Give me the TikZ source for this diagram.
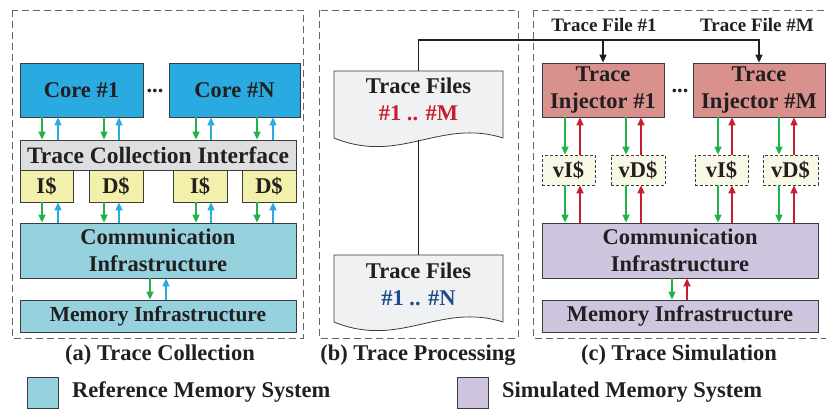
\documentclass[tikz,border=0pt]{standalone}
\usepackage{fontspec}
\setmainfont{Liberation Serif}
\usetikzlibrary{arrows.meta}
\definecolor{txt}{RGB}{35,31,32}
\definecolor{boxline}{RGB}{60,60,60}
\definecolor{corecol}{RGB}{41,171,226}
\definecolor{tcicol}{RGB}{221,222,223}
\definecolor{cachecol}{RGB}{242,240,170}
\definecolor{refcol}{RGB}{150,210,222}
\definecolor{injcol}{RGB}{217,145,142}
\definecolor{vcachecol}{RGB}{248,248,230}
\definecolor{simcol}{RGB}{207,197,222}
\definecolor{filecol}{RGB}{240,241,242}
\definecolor{greencol}{RGB}{34,178,76}
\definecolor{bluecol}{RGB}{41,171,226}
\definecolor{redcol}{RGB}{200,30,45}
\definecolor{navycol}{RGB}{30,75,140}
\tikzset{
  box/.style={draw=boxline, line width=0.8pt, inner sep=0pt, text=txt, align=center,
    font=\fontsize{22.5}{27}\selectfont\bfseries},
  vbox/.style={box, dash pattern=on 3pt off 2pt, fill=vcachecol},
  lbl/.style={inner sep=0pt, text=txt, font=\fontsize{22.5}{27}\selectfont\bfseries},
  panel/.style={draw=black!60, dash pattern=on 7pt off 4pt, line width=0.9pt},
  dnarrow/.style={-{Triangle[length=8pt,width=7pt]}, line width=1.6pt, draw=greencol},
  upblue/.style={-{Triangle[length=8pt,width=7pt]}, line width=1.6pt, draw=bluecol},
  upred/.style={-{Triangle[length=8pt,width=7pt]}, line width=1.6pt, draw=redcol},
  fileline/.style={line width=1.3pt, draw=txt},
  tracefile/.pic={
    \draw[draw=boxline, line width=0.8pt, fill=filecol] (-84.5,33.5) -- (84.5,33.5) -- (84.5,-33.5)
      .. controls +(-63,20) and +(66,-27) .. (-84.5,-33.5) -- cycle;
    \coordinate (-top) at (0,33.5);
    \coordinate (-bot) at (0,-36);
  }
}
\begin{document}
\begin{tikzpicture}[x=1pt, y=1pt]
\useasboundingbox (0,0) rectangle (826,410);
\draw[panel] (12,400) rectangle (303,72);
\draw[panel] (319,400) rectangle (518,72);
\draw[panel] (533,400) rectangle (840,72);

% (a) trace collection
\node[box, fill=corecol, minimum width=123pt, minimum height=54pt] (core1) at (81.5,320) {Core \#1};
\node[box, fill=corecol, minimum width=131pt, minimum height=54pt] (coreN) at (234.5,320) {Core \#N};
\node[lbl] (dotsA) at (155,319) {...};
\node[box, fill=tcicol, minimum width=276pt, minimum height=30pt, font=\fontsize{23.5}{27}\selectfont\bfseries] (tci) at (158,255) {Trace Collection Interface};
\node[box, fill=cachecol, minimum width=53pt, minimum height=32pt] (ia) at (46.5,224) {I\$};
\node[box, fill=cachecol, minimum width=54pt, minimum height=32pt] (da) at (116,224) {D\$};
\node[box, fill=cachecol, minimum width=54pt, minimum height=32pt] (ib) at (200,224) {I\$};
\node[box, fill=cachecol, minimum width=54pt, minimum height=32pt] (db) at (269,224) {D\$};
\node[box, fill=refcol, minimum width=276pt, minimum height=55pt] (comA) at (158,159.5) {Communication\\Infrastructure};
\node[box, fill=refcol, minimum width=276pt, minimum height=32pt, font=\fontsize{21.5}{27}\selectfont\bfseries] (memA) at (158,94) {Memory Infrastructure};
\foreach \c/\k/\g/\b in {core1/ia/42/58, core1/da/104/119, coreN/ib/196/211, coreN/db/257/273} {
  \draw[dnarrow] (\c.south -| \g,0) -- (tci.north -| \g,0);
  \draw[upblue] (tci.north -| \b,0) -- (\c.south -| \b,0);
  \draw[dnarrow] (\k.south -| \g,0) -- (comA.north -| \g,0);
  \draw[upblue] (comA.north -| \b,0) -- (\k.south -| \b,0);
}
\draw[dnarrow] (comA.south -| 150,0) -- (memA.north -| 150,0);
\draw[upblue] (memA.north -| 166,0) -- (comA.south -| 166,0);
\node[lbl] (capA) at (160,55) {(a) Trace Collection};

% (b) trace processing
\pic (docM) at (418.5,305.5) {tracefile};
\pic (docN) at (418.5,121.5) {tracefile};
\node[lbl, align=center] (fileM) at (418.5,311) {Trace Files\\\textcolor{redcol}{\#1 .. \#M}};
\node[lbl, align=center] (fileN) at (418.5,126) {Trace Files\\\textcolor{navycol}{\#1 .. \#N}};
\draw[fileline] (docM-bot) -- (docN-top);
\node[lbl] (capB) at (418,55) {(b) Trace Processing};

% (c) trace simulation
\node[box, fill=injcol, minimum width=122pt, minimum height=54pt] (inj1) at (603,320) {Trace\\Injector \#1};
\node[box, fill=injcol, minimum width=132pt, minimum height=54pt] (injM) at (759,320) {Trace\\Injector \#M};
\node[lbl] (dotsC) at (680,319) {...};
\node[lbl, font=\fontsize{19}{22}\selectfont\bfseries] (tf1) at (604,385) {Trace File \#1};
\node[lbl, font=\fontsize{19}{22}\selectfont\bfseries] (tfM) at (757,385) {Trace File \#M};
\draw[fileline, -{Triangle[length=8pt,width=7pt]}] (docM-top) |- (injM.north |- 0,370) -- (injM.north);
\draw[fileline, -{Triangle[length=8pt,width=7pt]}] (inj1.north |- 0,370) -- (inj1.north);
\node[vbox, minimum width=53pt, minimum height=30pt] (vi1) at (568.5,240) {vI\$};
\node[vbox, minimum width=54pt, minimum height=30pt] (vd1) at (638,240) {vD\$};
\node[vbox, minimum width=53pt, minimum height=30pt] (vi2) at (721.5,240) {vI\$};
\node[vbox, minimum width=55pt, minimum height=30pt] (vd2) at (790.5,240) {vD\$};
\node[box, fill=simcol, minimum width=276pt, minimum height=55pt] (comC) at (680,159.5) {Communication\\Infrastructure};
\node[box, fill=simcol, minimum width=276pt, minimum height=32pt] (memC) at (680,94) {Memory Infrastructure};
\foreach \c/\k/\g/\r in {inj1/vi1/565/580, inj1/vd1/626/641, injM/vi2/718/732, injM/vd2/779/794} {
  \draw[dnarrow] (\c.south -| \g,0) -- (\k.north -| \g,0);
  \draw[upred] (\k.north -| \r,0) -- (\c.south -| \r,0);
  \draw[dnarrow] (\k.south -| \g,0) -- (comC.north -| \g,0);
  \draw[upred] (comC.north -| \r,0) -- (\k.south -| \r,0);
}
\draw[dnarrow] (comC.south -| 672,0) -- (memC.north -| 672,0);
\draw[upred] (memC.north -| 687,0) -- (comC.south -| 687,0);
\node[lbl] (capC) at (679,55) {(c) Trace Simulation};

% legend
\node[box, fill=refcol, minimum size=31pt] (keyRef) at (42.5,17.5) {};
\node[lbl, anchor=west] (keyRefTxt) at (72,17.5) {Reference Memory System};
\node[box, fill=simcol, minimum size=31pt] (keySim) at (472.5,17.5) {};
\node[lbl, anchor=west] (keySimTxt) at (502,17.5) {Simulated Memory System};
\end{tikzpicture}
\end{document}
